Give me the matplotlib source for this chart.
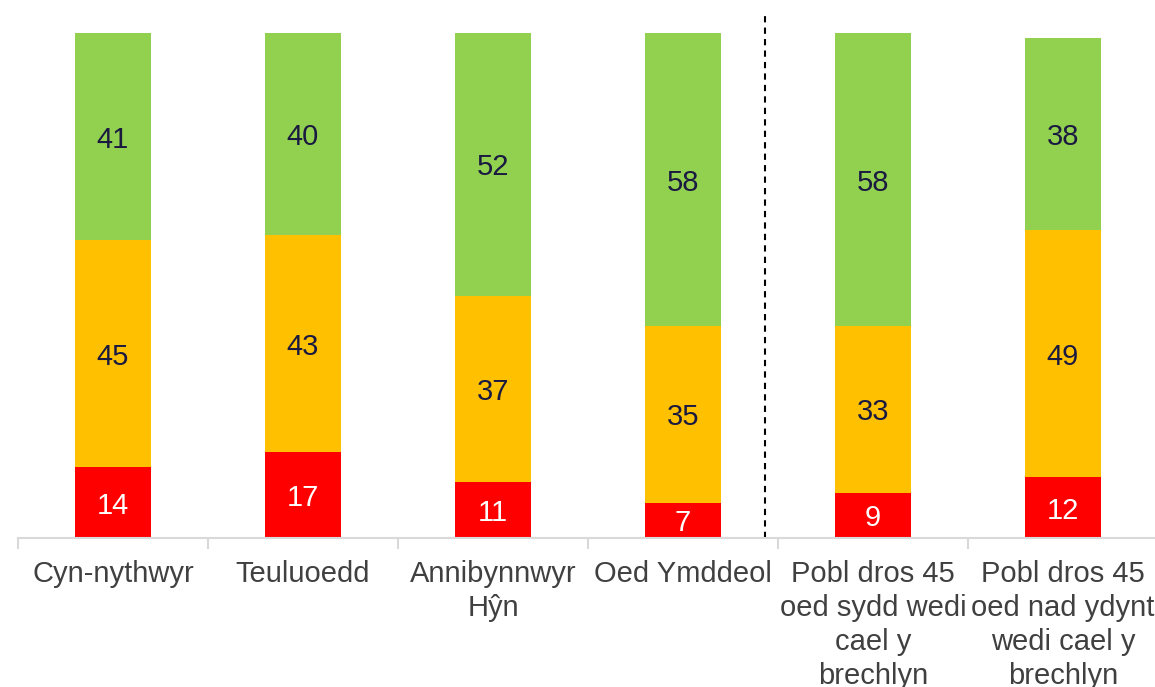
import numpy as np
import matplotlib
matplotlib.use('Agg')
import matplotlib.pyplot as plt

categories = ['Cyn-nythwyr', 'Teuluoedd', 'Annibynnwyr\nHŷn', 'Oed Ymddeol',
              'Pobl dros 45\noed sydd wedi\ncael y\nbrechlyn',
              'Pobl dros 45\noed nad ydynt\nwedi cael y\nbrechlyn']
red_vals = [14, 17, 11, 7, 9, 12]
orange_vals = [45, 43, 37, 35, 33, 49]
green_vals = [41, 40, 52, 58, 58, 38]

def main():
    '''
    '''
    plt.rcParams['font.family'] = ['Liberation Sans', 'DejaVu Sans']
    fig = plt.figure(figsize=(11.55, 6.87), dpi=100)
    ax = fig.add_axes([18/1155, 149/687, 1140/1155, 526/687])

    x = np.arange(len(categories))
    width = 0.395
    red = np.array(red_vals)
    orange = np.array(orange_vals)
    green = np.array(green_vals)

    ax.bar(x, red, width, color='#ff0000')
    ax.bar(x, orange, width, bottom=red, color='#ffc000')
    ax.bar(x, green, width, bottom=red + orange, color='#92d050')

    for i in range(len(x)):
        ax.text(x[i], red[i] / 2.0, str(red[i]), ha='center', va='center_baseline',
                fontsize=21, color='white')
        ax.text(x[i], red[i] + orange[i] / 2.0, str(orange[i]), ha='center',
                va='center_baseline', fontsize=21, color='#1a1a40')
        ax.text(x[i], red[i] + orange[i] + green[i] / 2.0, str(green[i]),
                ha='center', va='center_baseline', fontsize=21, color='#1a1a40')

    ax.axvline(3.43, color='black', linestyle=(0, (3, 2.5)), linewidth=1.5)

    ax.set_xlim(-0.5, 5.5)
    ax.set_ylim(0, 104.2)
    ax.set_xticks(x)
    ax.set_xticklabels(categories, fontsize=21, color='#404040', linespacing=1.27)
    ax.set_xticks(np.arange(-0.5, 6.0, 1.0), minor=True)
    ax.tick_params(axis='x', which='major', length=0, pad=16)
    ax.tick_params(axis='x', which='minor', length=8, color='#d9d9d9', width=1.5)
    ax.set_yticks([])
    for s in ['top', 'right', 'left']:
        ax.spines[s].set_visible(False)
    ax.spines['bottom'].set_color('#d9d9d9')
    ax.spines['bottom'].set_linewidth(1.5)

    plt.savefig('out.png', dpi=100)

if __name__ == "__main__":
    main()
